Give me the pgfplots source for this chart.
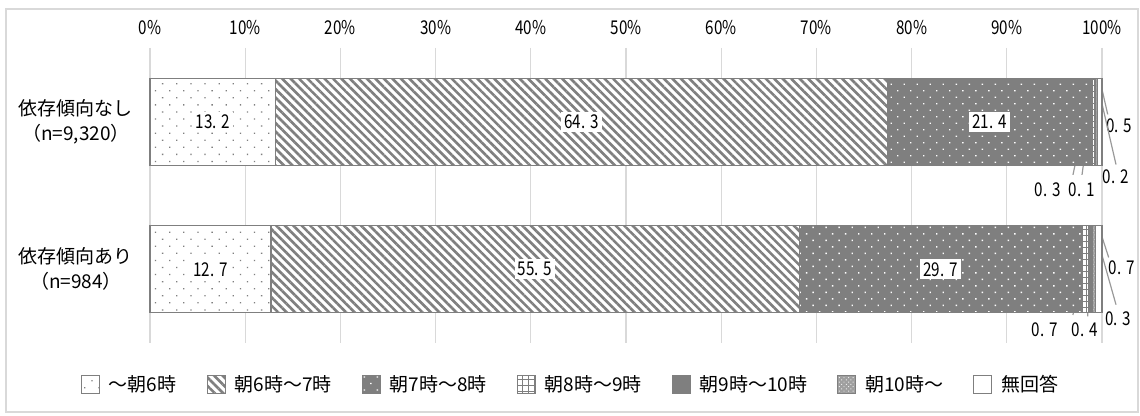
\documentclass[border=0pt]{standalone}
\usepackage{fontspec}
\setmainfont{Noto Sans CJK JP}
\newfontfamily\numfont[FakeStretch=0.8]{Noto Sans CJK JP}
\usepackage{pgfplots}
\pgfplotsset{compat=1.18}
\usepackage{pgfplotstable}
\usetikzlibrary{patterns.meta}

\definecolor{pg}{HTML}{7F7F7F}
\definecolor{gridc}{HTML}{D9D9D9}
\definecolor{leadc}{HTML}{999999}

\pgfplotstableread{
y a b c d e f g
0 13.2 64.3 21.4 0.3 0.1 0.2 0.5
1 12.7 55.5 29.7 0.7 0.4 0.3 0.7
}\data

\pgfplotsset{
  clabel/.style={
    point meta=explicit,
    nodes near coords={\pgfmathprintnumber[fixed,fixed zerofill,precision=1,assume math mode=true,dec sep={.\kern2.5pt}]{\pgfplotspointmeta}},
    every node near coord/.append style={anchor=center, fill=white, inner sep=1.5pt,
      font=\fontsize{9.5}{11}\selectfont\numfont, text=black},
  },
}

\newcommand{\smlab}[1]{\fontsize{9.5}{11}\selectfont\numfont #1}

\begin{document}
\begin{tikzpicture}[x=1pt,y=1pt]
\useasboundingbox (0,0) rectangle (570,208);
\draw[gridc, line width=0.6pt] (3,2) rectangle (569,203.5);
\begin{axis}[
  at={(75pt,36.5pt)}, anchor=south west,
  scale only axis, width=476pt, height=147.5pt,
  xbar stacked, bar width=43.5pt,
  xmin=0, xmax=100, ymin=-0.5, ymax=1.5, y dir=reverse,
  xtick={0,10,...,100},
  xticklabels={0\%,10\%,20\%,30\%,40\%,50\%,60\%,70\%,80\%,90\%,100\%},
  xticklabel pos=upper,
  xticklabel style={font=\fontsize{9.5}{11}\selectfont\numfont, yshift=3pt},
  xmajorgrids, grid style={gridc, line width=0.6pt},
  ytick={0,1},
  yticklabels={{依存傾向なし\\（n=9,320）},{依存傾向あり\\（n=984）}},
  yticklabel style={align=center, font=\fontsize{9.5}{12.5}\selectfont, xshift=-5pt},
  major tick length=0pt,
  axis line style={draw=none},
  clip=false,
  legend style={at={(0.443,-0.142)}, anchor=center, draw=none, legend columns=-1,
    font=\fontsize{9.5}{11}\selectfont,
    /tikz/every odd column/.append style={column sep=2.5pt},
    /tikz/every even column/.append style={column sep=13pt}},
  legend image code/.code={\draw[#1, line width=0.5pt] (0pt,-4.5pt) rectangle (9pt,4.5pt);},
]
\addplot[fill=white, draw=pg, line width=0.6pt,
  postaction={pattern={Dots[distance=5pt, radius=0.45pt, angle=45]}, pattern color=pg},
  clabel] table[x=a, y=y, meta=a] \data;
\addplot[fill=white, draw=pg, line width=0.6pt,
  postaction={pattern={Lines[angle=-45, distance=3pt, line width=1.3pt]}, pattern color=pg},
  clabel] table[x=b, y=y, meta=b] \data;
\addplot[fill=pg, draw=pg, line width=0.6pt,
  postaction={pattern={Dots[distance=4.6pt, radius=0.5pt, angle=45]}, pattern color=white},
  clabel] table[x=c, y=y, meta=c] \data;
\addplot[fill=white, draw=pg, line width=0.6pt,
  postaction={pattern={Hatch[angle=0, distance=3pt, line width=0.5pt]}, pattern color=pg}]
  table[x=d, y=y] \data;
\addplot[fill=pg, draw=pg, line width=0.6pt] table[x=e, y=y] \data;
\addplot[fill=gray!75, draw=pg, line width=0.6pt,
  postaction={pattern={Dots[distance=1.6pt, radius=0.35pt, angle=45]}, pattern color=white!85!gray}]
  table[x=f, y=y] \data;
\addplot[fill=white, draw=pg, line width=0.6pt] table[x=g, y=y] \data;
\legend{～朝6時, 朝6時〜7時, 朝7時〜8時, 朝8時〜9時, 朝9時〜10時, 朝10時〜, 無回答}

% leader lines and labels for the small segments, row 1
\draw[leadc, line width=0.6pt] (axis cs:99.05,-0.29) -- (axis cs:96.95,0.36);
\draw[leadc, line width=0.6pt] (axis cs:99.26,-0.29) -- (axis cs:97.9,0.36);
\draw[leadc, line width=0.6pt] (axis cs:99.4,-0.29) -- (axis cs:101.47,0.29);
\draw[leadc, line width=0.6pt] (axis cs:99.75,-0.29) -- (axis cs:100.6,-0.05);
\node at (axis cs:94.33,0.46) {\smlab{0.\kern2.5pt3}};
\node at (axis cs:97.9,0.46) {\smlab{0.\kern2.5pt1}};
\node at (axis cs:101.47,0.375) {\smlab{0.\kern2.5pt2}};
\node at (axis cs:101.8,0.024) {\smlab{0.\kern2.5pt5}};
% row 2
\draw[leadc, line width=0.6pt] (axis cs:98.25,0.71) -- (axis cs:96.95,1.31);
\draw[leadc, line width=0.6pt] (axis cs:98.8,0.71) -- (axis cs:98.5,1.32);
\draw[leadc, line width=0.6pt] (axis cs:99.15,0.71) -- (axis cs:101.47,1.24);
\draw[leadc, line width=0.6pt] (axis cs:99.65,0.71) -- (axis cs:100.7,0.92);
\node at (axis cs:94.0,1.41) {\smlab{0.\kern2.5pt7}};
\node at (axis cs:98.2,1.41) {\smlab{0.\kern2.5pt4}};
\node at (axis cs:101.7,1.335) {\smlab{0.\kern2.5pt3}};
\node at (axis cs:102.1,0.99) {\smlab{0.\kern2.5pt7}};
\end{axis}
\end{tikzpicture}
\end{document}
